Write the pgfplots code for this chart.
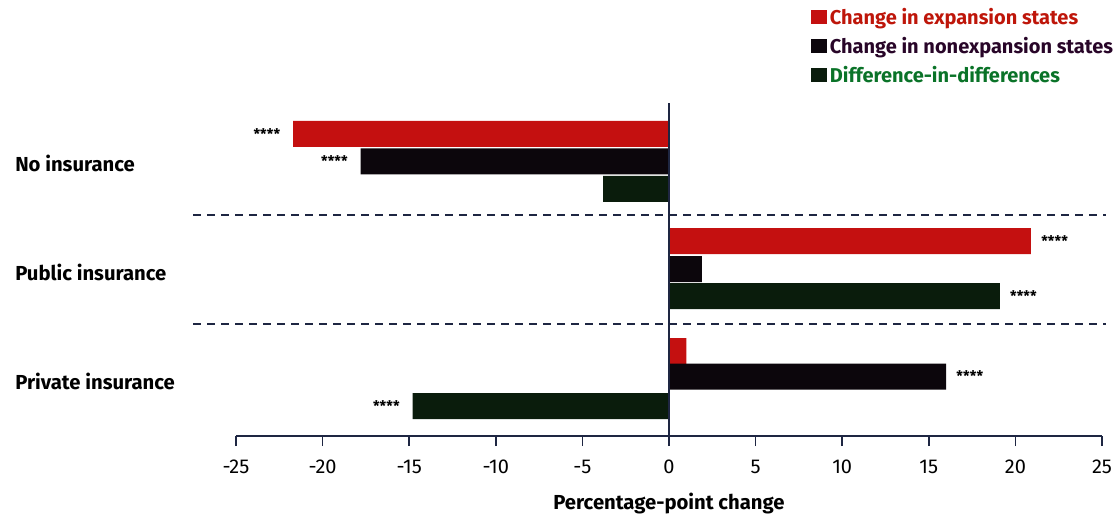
\documentclass[border=0pt]{standalone}
\usepackage{pgfplots}
\pgfplotsset{compat=1.18}
\usepackage{fontspec}
\setmainfont{Fira Sans}
\definecolor{cred}{RGB}{196,16,16}
\definecolor{cblack}{RGB}{12,6,12}
\definecolor{cgreen}{RGB}{10,28,12}
\definecolor{tred}{RGB}{190,22,10}
\definecolor{tpurple}{RGB}{40,5,40}
\definecolor{tgreen}{RGB}{10,115,40}
\definecolor{navy}{RGB}{30,38,66}
\begin{document}
\begin{tikzpicture}
\begin{axis}[
 name=ax,
 scale only axis,
 width=649.5pt, height=255.75pt,
 xmin=-25, xmax=25, ymin=82, ymax=423,
 clip=false,
 axis x line=bottom, axis y line=none,
 axis line style={navy, line width=1.1pt, -},
 xtick={-25,-20,...,25},
 xticklabels={-25,-20,-15,-10,-5,0,5,10,15,20,25},
 xtick align=outside, major tick length=7.5pt,
 tick style={navy, line width=1.1pt},
 xticklabel style={font=\fontsize{15}{17}\selectfont, text=black, yshift=-7pt},
 xlabel={Percentage-point change},
 xlabel style={font=\fontsize{15.2}{17}\selectfont\bfseries, yshift=-7.5pt},
 bar width=26, bar shift=0pt,
 legend style={draw=none, fill=none, at={(axis description cs:1.016,1.264)}, anchor=north east,
   font=\fontsize{15}{17}\selectfont\bfseries, row sep=4.2pt, inner sep=0pt},
 legend cell align=left,
 legend image code/.code={\fill[#1,draw=none] (-3pt,-5.25pt) rectangle (9pt,5.25pt);},
]
\addplot[xbar, fill=cred, draw=none] coordinates {(-21.7,384) (20.9,277) (1.0,167)};
\addlegendentry{\textcolor{tred}{Change in expansion states}}
\addplot[xbar, fill=cblack, draw=none] coordinates {(-17.8,356.5) (1.9,249) (16.0,141.5)};
\addlegendentry{\textcolor{tpurple}{Change in nonexpansion states}}
\addplot[xbar, fill=cgreen, draw=none] coordinates {(-3.8,329) (19.1,222) (-14.8,112)};
\addlegendentry{\textcolor{tgreen}{Difference-in-differences}}
% significance stars (left of negative bars, right of positive bars)
\addplot[draw=none, mark=none, forget plot, nodes near coords={\raisebox{-0.42em}{****}},
  every node near coord/.style={anchor=east, font=\fontsize{11}{11}\selectfont\bfseries, text=black, inner sep=0pt, xshift=-9.5pt}]
  coordinates {(-21.7,384) (-17.8,356.5) (-14.8,112)};
\addplot[draw=none, mark=none, forget plot, nodes near coords={\raisebox{-0.42em}{****}},
  every node near coord/.style={anchor=west, font=\fontsize{11}{11}\selectfont\bfseries, text=black, inner sep=0pt, xshift=7.5pt}]
  coordinates {(20.9,277) (19.1,222) (16.0,141.5)};
\draw[navy, line width=1.1pt] (axis cs:0,82) -- (axis cs:0,415);
\draw[navy, line width=1pt, dash pattern=on 6pt off 4.5pt] (axis cs:-27.48,303) -- (axis cs:25.23,303);
\draw[navy, line width=1pt, dash pattern=on 6pt off 4.5pt] (axis cs:-27.48,194) -- (axis cs:25.23,194);
\node[anchor=west, inner sep=0pt, font=\fontsize{15.2}{17}\selectfont\bfseries] at (axis cs:-37.76,355) {No insurance};
\node[anchor=west, inner sep=0pt, font=\fontsize{15.2}{17}\selectfont\bfseries] at (axis cs:-37.76,246) {Public insurance};
\node[anchor=west, inner sep=0pt, font=\fontsize{15.2}{17}\selectfont\bfseries] at (axis cs:-37.76,137) {Private insurance};
\end{axis}
\pgfresetboundingbox
\path[use as bounding box] ([shift={(-177pt,-61.5pt)}]ax.south west) rectangle ([shift={(10.5pt,71.25pt)}]ax.north east);
\end{tikzpicture}
\end{document}
